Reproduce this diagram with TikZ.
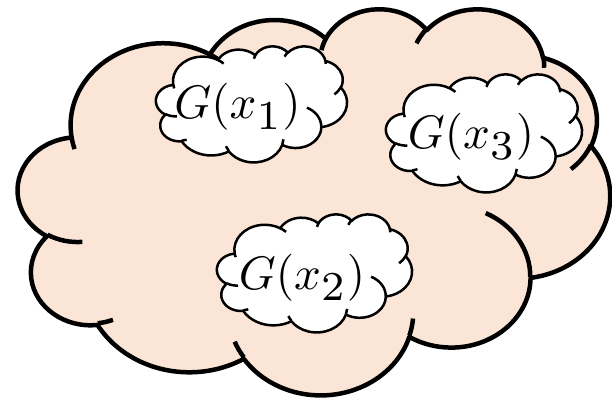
\documentclass[tikz,border=0pt]{standalone}
\definecolor{peach}{HTML}{FBE5D6}
\makeatletter
\newcommand\vtp[4]{%
  \pgfmathparse{atan2((#2)*sin(#4),(#3)*cos(#4))}\let\vtp@p\pgfmathresult
  \pgfmathparse{(\vtp@p)-(#4)}\let\vtp@d\pgfmathresult
  \pgfmathparse{(#4)+(\vtp@d)-360*round((\vtp@d)/360)}\global\let#1\pgfmathresult}
\makeatother
\newcommand\carc[4]{\pgfextra{\vtp\cS{#1}{#2}{#3}\pgfmathparse{(#3)+(#4)}\global\let\cT\pgfmathresult\vtp\cE{#1}{#2}{\cT}}arc[x radius=#1,y radius=#2,start angle=\cS,end angle=\cE]}
\newcommand\cloudmain{(39.00,143.70)
 \carc{67.53}{91.90}{-190.4875}{123.7805}
 \carc{53.33}{72.67}{-144.1024}{89.9452}
 \carc{43.65}{59.45}{-145.8079}{99.7230}
 \carc{48.57}{65.95}{-130.9861}{117.2417}
 \carc{53.33}{72.73}{-78.7089}{109.0269}
 \carc{67.75}{92.20}{-46.2673}{130.2690}
 \carc{57.85}{78.67}{0.6250}{114.0333}
 \carc{67.52}{92.15}{22.4516}{115.1726}
 \carc{77.20}{105.43}{66.2426}{75.7110}
 \carc{43.60}{59.18}{-274.9421}{146.7356}
 \carc{43.45}{59.45}{-246.8285}{152.5189} -- cycle}
\newcommand\clouddeco{%
 (46.93,261.77) \carc{43.45}{59.45}{86.7420}{26.4295}
 (69.28,348.99) \carc{43.60}{59.18}{73.6105}{11.4475}
 (164.78,390.90) \carc{67.52}{92.15}{137.6242}{14.0811}
 (288.27,347.51) \carc{67.52}{92.15}{6.4533}{15.9984}
 (341.29,229.54) \carc{57.85}{78.67}{-70.2924}{70.9174}
 (417.98,153.54) \carc{53.33}{72.73}{30.3180}{27.7515}
 (383.24,54.26) \carc{48.57}{65.95}{-13.7443}{14.8589}
 (290.78,39.52) \carc{48.57}{65.95}{-149.1815}{18.1954}
 (221.41,47.20) \carc{43.65}{59.45}{-163.4943}{17.6864}
 (140.00,51.92) \carc{67.53}{91.90}{-66.7070}{12.3194}
 (41.27,157.89) \carc{67.53}{91.90}{157.6544}{11.8582}}
\newcommand\cloudshape[5]{%
 \begin{scope}[shift={(#1,#2)},xscale=#3/432,yscale=#4/432]
  \path[#5] \cloudmain;
  \path[#5,fill=none] \clouddeco;
 \end{scope}}
\newcommand\sub[1]{_{\raisebox{-1pt}{\scalebox{1.25}{$\scriptstyle #1$}}}}
\tikzset{
  bigcloud/.style={draw=black,fill=peach,line width=4.5pt,line join=round},
  smallcloud/.style={draw=black,fill=white,line width=2.5pt,line join=round},
  lbl/.style={anchor=base,inner sep=0pt,outer sep=0pt,scale=4.7}
}
\begin{document}
\begin{tikzpicture}[x=1pt,y=-1pt]
\useasboundingbox (0,0) rectangle (612,399);
\cloudshape{18}{8}{592}{386}{bigcloud}
\cloudshape{156}{46}{191}{116}{smallcloud}
\cloudshape{386}{74}{196}{118}{smallcloud}
\cloudshape{217}{214}{195}{118}{smallcloud}
\node[lbl] (g1) at (237.5,118) {$G(x\sub{1})$};
\node[lbl] (g3) at (471,148) {$G(x\sub{3})$};
\node[lbl] (g2) at (302,289) {$G(x\sub{2})$};
\end{tikzpicture}
\end{document}
